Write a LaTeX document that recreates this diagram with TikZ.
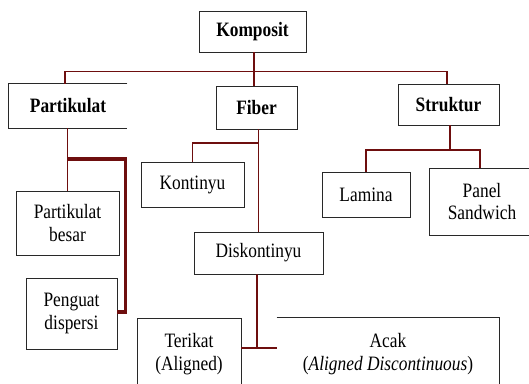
\documentclass[tikz,border=0pt]{standalone}
\usepackage{fontspec}
\setmainfont{Liberation Serif}
\newfontfamily\tnr{Liberation Serif}
\definecolor{linkred}{RGB}{110,14,14}
\definecolor{boxgray}{RGB}{40,40,40}
\newcommand\sq[1]{\scalebox{0.85}[1]{#1}}
\begin{document}
\begin{tikzpicture}[x=1bp,y=-1bp,
  box/.style={draw=boxgray,line width=0.9bp,inner sep=0pt,align=center,font=\tnr\fontsize{20.5}{23}\selectfont},
  openbox/.style={box,draw=none},
  boxline/.style={draw=boxgray,line width=0.9bp},
  link/.style={draw=linkred,line width=1.6bp,line join=miter},
  thicklink/.style={link,line width=3.2bp}]
\clip (0,0) rectangle (529,383);
\fill[white] (0,0) rectangle (529,383);
% nodes
\node[box,minimum width=107bp,minimum height=41bp] (kom) at (252.5,31.5) {\bfseries\sq{Komposit}};
\node[openbox,minimum width=118bp,minimum height=44bp] (par) at (68,106) {\bfseries\sq{Partikulat}};
\draw[boxline] (par.north east) -- (par.north west) -- (par.south west) -- (par.south east);
\node[box,minimum width=81bp,minimum height=43bp] (fib) at (256.5,107.5) {\bfseries\sq{Fiber}};
\node[box,minimum width=101bp,minimum height=41bp] (str) at (448.5,104.5) {\bfseries\sq{Struktur}};
\node[box,minimum width=103bp,minimum height=64bp] (pb) at (67.5,223) {\sq{Partikulat}\\\sq{besar}};
\node[box,minimum width=91bp,minimum height=71bp] (pd) at (71.5,313.5) {\sq{Penguat}\\\sq{dispersi}};
\node[box,minimum width=103bp,minimum height=45bp] (kon) at (192.5,184.5) {\sq{Kontinyu}};
\node[box,minimum width=129bp,minimum height=42bp] (dis) at (258.5,253) {\sq{Diskontinyu}};
\node[box,minimum width=104bp,minimum height=72bp] (ter) at (189,354) {\sq{Terikat}\\\sq{(Aligned)}};
\node[openbox,minimum width=222bp,minimum height=72bp] (acak) at (388,354) {\sq{Acak}\\\sq{(\textit{Aligned Discontinuous})}};
\draw[boxline] (acak.north west) -- (acak.north east) -- (acak.south east) -- (acak.south west);
\node[box,minimum width=88bp,minimum height=45bp] (lam) at (366,194.5) {\sq{Lamina}};
\node[box,minimum width=106bp,minimum height=67bp] (pan) at (482,201.5) {\sq{Panel}\\\sq{Sandwich}};
% connectors
\draw[link] ([xshift=1.5bp]kom.south) -- ([xshift=1.5bp]kom.south |- fib.north);
\draw[link] ([xshift=-3bp]par.north) -- ++(0,-12) -| ([xshift=-1.5bp]str.north);
\draw[link] (pb.north |- par.south) -- (pb.north);
\coordinate (pj) at (67.5,159);
\draw[thicklink] (pj) -- (125.5,159) |- ([yshift=1.5bp]pd.east);
\draw[link] (dis.north |- fib.south) -- (dis.north);
\coordinate (kj) at (258.5,143);
\draw[link] (kj) -| (kon.north);
\coordinate (tj) at (257,348);
\draw[link] ([xshift=-1.5bp]dis.south) -- (tj);
\draw[link] (ter.east |- tj) -- (acak.west |- tj);
\coordinate (sj) at (450,150);
\draw[link] ([xshift=1.5bp]str.south) -- (sj);
\draw[link] (lam.north) |- (sj) -| ([xshift=-2bp]pan.north);
\end{tikzpicture}
\end{document}
